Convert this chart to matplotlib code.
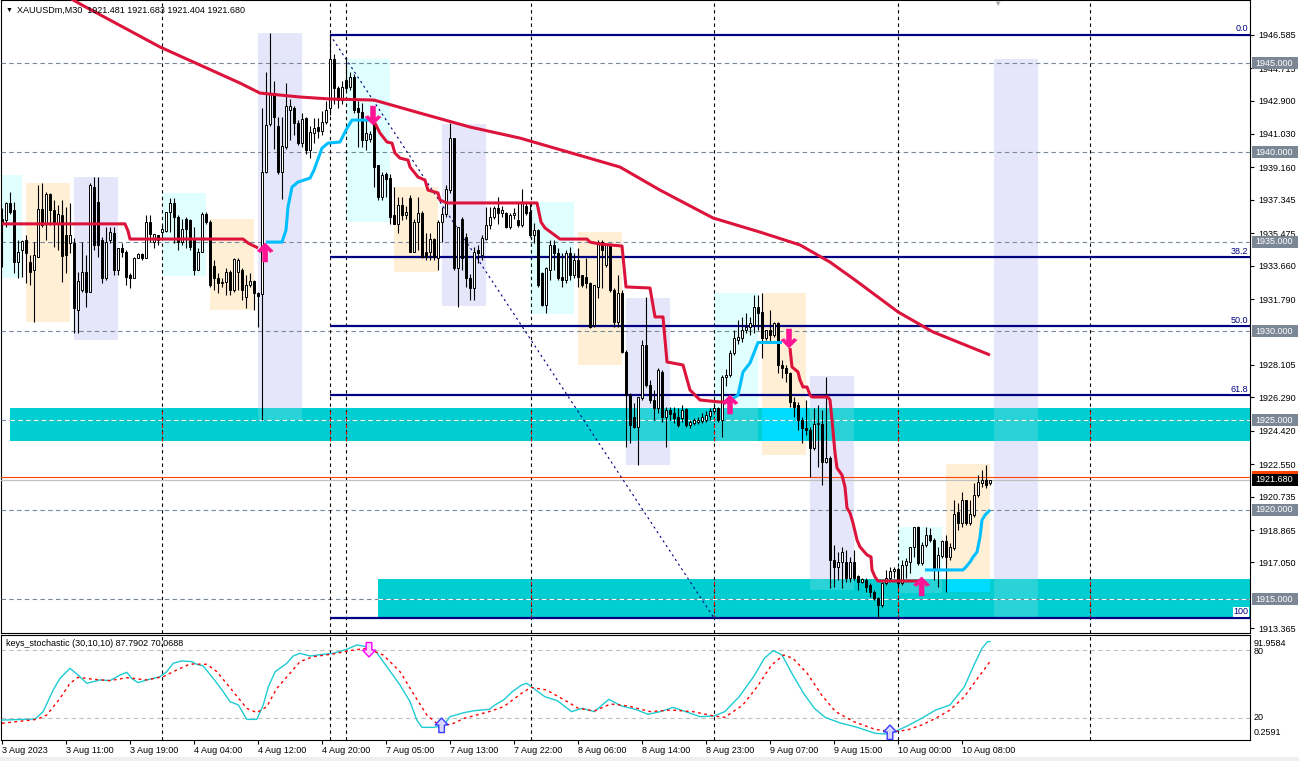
import numpy as np
import matplotlib
matplotlib.use("Agg")
import matplotlib.pyplot as plt
import matplotlib.transforms as mtransforms
from matplotlib.patches import Rectangle, Polygon

plt.rcParams["font.family"] = ["Liberation Sans", "DejaVu Sans"]

W, H = 1299, 761

# XAUUSDm M30 bars, index 0 = 3 Aug 2023 03:00
OPEN = [
    1936.30, 1936.21, 1937.14, 1936.77, 1933.88, 1934.53, 1935.10, 1933.88, 1933.41, 1934.16,
    1936.81, 1936.02, 1937.65, 1936.77, 1936.02, 1936.49, 1935.37, 1934.94, 1934.91, 1931.17,
    1932.29, 1933.28, 1932.20, 1938.08, 1937.24, 1935.10, 1932.95, 1935.10, 1935.50, 1933.41,
    1934.63, 1934.44, 1933.13, 1932.95, 1934.10, 1934.29, 1934.10, 1936.12, 1935.00, 1935.37,
    1935.56, 1935.60, 1936.68, 1937.18, 1936.40, 1935.00, 1936.25, 1936.20, 1935.10, 1933.41,
    1934.44, 1936.58, 1936.12, 1933.63, 1932.95, 1932.67, 1932.76, 1933.28, 1932.29, 1933.32,
    1933.41, 1931.88, 1932.57, 1932.80, 1932.15, 1932.10, 1938.92, 1941.59, 1943.30, 1941.50,
    1938.92, 1940.31, 1942.40, 1942.46, 1941.62, 1940.54, 1941.90, 1940.13, 1941.10, 1941.40,
    1941.20, 1941.70, 1942.46, 1945.20, 1943.58, 1942.93, 1944.05, 1943.68, 1944.24, 1942.46,
    1942.28, 1940.69, 1940.73, 1941.62, 1939.29, 1937.52, 1938.79, 1938.55, 1936.49, 1936.02,
    1937.05, 1936.49, 1937.43, 1934.44, 1936.12, 1936.63, 1934.44, 1934.44, 1935.13, 1934.07,
    1936.12, 1936.55, 1937.90, 1940.78, 1933.51, 1936.25, 1935.28, 1932.95, 1932.39, 1934.53,
    1934.26, 1935.13, 1935.93, 1936.40, 1936.87, 1936.59, 1936.59, 1935.84, 1936.49, 1936.21,
    1935.93, 1937.00, 1936.68, 1935.38, 1935.65, 1933.23, 1931.46, 1933.42, 1934.82, 1934.35,
    1933.00, 1932.86, 1934.35, 1933.14, 1933.98, 1933.14, 1933.00, 1932.67, 1930.34, 1932.48,
    1935.00, 1933.70, 1934.82, 1932.30, 1930.52, 1932.11, 1928.85, 1926.42, 1925.21, 1924.65,
    1926.24, 1929.22, 1926.98, 1926.14, 1925.67, 1927.73, 1925.21, 1925.58, 1925.40, 1925.21,
    1925.12, 1925.62, 1924.74, 1924.87, 1924.93, 1924.98, 1925.02, 1925.25, 1925.54, 1925.67,
    1925.02, 1927.45, 1927.54, 1928.75, 1929.50, 1929.59, 1930.06, 1930.25, 1930.34, 1931.36,
    1931.09, 1929.59, 1930.06, 1929.78, 1930.43, 1928.10, 1927.91, 1927.63, 1926.05, 1925.86,
    1925.02, 1924.56, 1924.46, 1923.44, 1924.80, 1924.80, 1922.69, 1922.88, 1917.19, 1916.82,
    1917.09, 1917.09, 1916.16, 1917.09, 1916.29, 1915.98, 1916.07, 1915.79, 1915.42, 1915.04,
    1914.67, 1915.88, 1916.16, 1916.59, 1916.67, 1915.88, 1916.88, 1917.09, 1917.90, 1919.02,
    1917.00, 1918.03, 1918.59, 1918.31, 1916.63, 1917.41, 1918.27, 1917.37, 1917.84, 1919.89,
    1919.24, 1920.55, 1919.28, 1919.71, 1920.83, 1921.52, 1921.67, 1921.481,
]
HIGH = [
    1936.90, 1937.24, 1937.80, 1937.24, 1935.10, 1935.10, 1935.37, 1934.25, 1935.00, 1938.17,
    1938.26, 1937.80, 1937.74, 1937.33, 1937.05, 1937.33, 1936.96, 1937.14, 1935.19, 1933.32,
    1935.00, 1934.25, 1938.26, 1938.60, 1938.64, 1935.28, 1935.84, 1935.84, 1935.84, 1934.63,
    1934.91, 1934.53, 1933.23, 1934.16, 1934.35, 1934.35, 1936.49, 1936.49, 1935.45, 1935.40,
    1936.02, 1936.68, 1937.42, 1937.42, 1936.49, 1936.30, 1936.40, 1936.30, 1935.84, 1934.63,
    1936.68, 1936.68, 1936.21, 1933.97, 1933.23, 1932.95, 1933.51, 1933.41, 1934.07, 1934.07,
    1933.51, 1933.13, 1933.23, 1932.85, 1932.20, 1942.46, 1944.51, 1946.66, 1944.00, 1942.00,
    1942.00, 1943.90, 1943.00, 1942.60, 1941.80, 1942.20, 1942.00, 1941.50, 1941.90, 1941.90,
    1942.30, 1942.90, 1946.59, 1945.50, 1943.70, 1944.00, 1945.35, 1944.50, 1944.40, 1942.90,
    1942.74, 1941.81, 1941.20, 1941.81, 1939.30, 1938.92, 1938.92, 1938.80, 1938.08, 1937.52,
    1937.52, 1937.00, 1937.60, 1936.30, 1937.52, 1936.70, 1935.47, 1935.47, 1935.20, 1936.21,
    1936.96, 1938.20, 1941.62, 1940.80, 1935.84, 1936.40, 1935.47, 1933.20, 1934.72, 1934.80,
    1935.37, 1936.96, 1936.96, 1937.00, 1937.52, 1937.00, 1936.68, 1936.60, 1936.90, 1937.25,
    1937.93, 1937.25, 1937.25, 1936.03, 1935.70, 1933.30, 1933.60, 1935.09, 1935.09, 1934.63,
    1934.35, 1934.54, 1934.72, 1934.35, 1934.63, 1933.14, 1934.07, 1932.76, 1932.60, 1935.09,
    1935.09, 1934.91, 1934.91, 1932.39, 1933.14, 1932.30, 1928.94, 1926.52, 1925.95, 1926.33,
    1929.50, 1931.92, 1927.26, 1926.70, 1927.92, 1927.82, 1925.77, 1925.77, 1925.77, 1925.67,
    1925.86, 1925.67, 1925.02, 1925.12, 1925.20, 1925.40, 1925.50, 1925.67, 1925.86, 1925.77,
    1927.54, 1927.90, 1928.94, 1930.06, 1930.62, 1930.80, 1930.99, 1930.81, 1932.02, 1932.02,
    1932.11, 1930.06, 1931.18, 1930.53, 1930.53, 1928.38, 1928.10, 1927.73, 1926.33, 1926.05,
    1925.21, 1926.14, 1924.65, 1925.68, 1925.86, 1925.58, 1927.45, 1923.00, 1918.03, 1917.65,
    1917.93, 1917.75, 1917.37, 1917.75, 1916.35, 1916.20, 1916.16, 1915.88, 1915.51, 1915.14,
    1915.98, 1916.63, 1916.82, 1916.82, 1916.82, 1917.19, 1917.28, 1917.93, 1919.05, 1919.09,
    1918.22, 1919.05, 1918.96, 1918.40, 1917.93, 1918.31, 1918.59, 1918.12, 1920.55, 1920.36,
    1921.01, 1920.55, 1920.55, 1921.48, 1921.94, 1922.22, 1922.50, 1921.683,
]
LOW = [
    1933.60, 1935.84, 1936.58, 1933.23, 1932.95, 1933.04, 1932.67, 1932.57, 1930.52, 1934.16,
    1935.84, 1935.10, 1935.93, 1934.72, 1934.53, 1932.76, 1933.23, 1934.35, 1929.87, 1929.87,
    1932.20, 1931.36, 1932.20, 1934.53, 1934.16, 1932.67, 1932.85, 1934.91, 1933.13, 1933.13,
    1934.16, 1932.57, 1932.39, 1932.95, 1934.07, 1933.97, 1934.07, 1935.00, 1934.63, 1934.80,
    1935.10, 1935.56, 1935.56, 1934.91, 1934.53, 1934.81, 1934.63, 1934.53, 1933.13, 1933.41,
    1934.44, 1936.02, 1932.48, 1932.29, 1932.11, 1932.48, 1932.01, 1932.01, 1932.20, 1932.29,
    1931.73, 1931.27, 1932.48, 1931.17, 1930.24, 1925.02, 1938.83, 1941.50, 1940.20, 1938.80,
    1937.40, 1940.20, 1940.70, 1941.00, 1940.40, 1940.30, 1939.90, 1939.70, 1940.50, 1940.80,
    1941.00, 1941.60, 1942.10, 1942.70, 1942.50, 1942.70, 1943.40, 1943.50, 1942.20, 1940.32,
    1940.32, 1940.13, 1940.60, 1938.08, 1937.33, 1937.33, 1937.52, 1936.02, 1936.00, 1935.47,
    1936.20, 1936.30, 1934.40, 1934.40, 1934.53, 1934.10, 1933.98, 1933.98, 1934.00, 1933.42,
    1935.00, 1936.40, 1937.70, 1933.42, 1931.36, 1933.42, 1932.48, 1931.74, 1931.74, 1933.80,
    1933.98, 1935.10, 1935.70, 1936.30, 1936.00, 1936.40, 1935.75, 1935.70, 1936.30, 1935.80,
    1935.84, 1936.50, 1935.28, 1934.91, 1932.48, 1931.40, 1930.99, 1932.86, 1933.42, 1932.86,
    1932.48, 1932.67, 1932.86, 1932.95, 1932.48, 1932.48, 1932.39, 1930.15, 1930.25, 1931.83,
    1932.39, 1933.60, 1932.20, 1930.25, 1930.25, 1928.75, 1923.53, 1923.72, 1924.56, 1922.50,
    1926.14, 1926.89, 1925.95, 1925.02, 1925.40, 1924.93, 1923.53, 1925.02, 1924.84, 1924.65,
    1924.93, 1924.65, 1924.56, 1924.74, 1924.80, 1924.84, 1924.90, 1925.02, 1925.40, 1924.93,
    1924.09, 1926.90, 1927.45, 1928.65, 1929.30, 1929.40, 1929.87, 1929.78, 1929.87, 1930.06,
    1928.47, 1929.50, 1929.41, 1929.69, 1927.63, 1927.36, 1927.17, 1925.77, 1925.21, 1924.46,
    1923.72, 1924.18, 1921.85, 1923.34, 1922.40, 1921.38, 1922.60, 1915.60, 1915.70, 1916.07,
    1915.60, 1915.98, 1915.98, 1916.07, 1915.51, 1915.88, 1915.42, 1915.14, 1914.95, 1913.92,
    1914.58, 1915.79, 1916.07, 1916.16, 1915.60, 1915.79, 1916.16, 1916.44, 1917.37, 1916.91,
    1916.91, 1917.93, 1918.22, 1916.07, 1915.70, 1917.28, 1915.42, 1917.19, 1917.75, 1918.87,
    1919.05, 1919.15, 1919.15, 1919.61, 1920.73, 1921.29, 1921.20, 1921.404,
]
CLOSE = [
    1936.10, 1937.14, 1936.68, 1933.88, 1934.44, 1935.05, 1934.35, 1933.32, 1934.25, 1936.81,
    1935.93, 1937.65, 1936.77, 1936.02, 1936.55, 1934.20, 1934.25, 1935.37, 1931.27, 1932.80,
    1933.28, 1932.20, 1938.17, 1934.81, 1934.81, 1932.95, 1935.00, 1935.56, 1933.41, 1934.63,
    1934.44, 1933.04, 1932.95, 1934.10, 1934.29, 1934.07, 1936.12, 1935.43, 1935.43, 1935.10,
    1935.69, 1936.68, 1937.18, 1936.40, 1935.00, 1935.74, 1935.74, 1934.72, 1933.41, 1934.44,
    1936.58, 1936.12, 1932.57, 1932.95, 1932.67, 1932.76, 1933.28, 1932.29, 1934.03, 1933.97,
    1932.29, 1932.57, 1932.80, 1932.15, 1931.96, 1938.92, 1941.53, 1943.30, 1942.00, 1938.92,
    1940.36, 1942.59, 1942.60, 1941.62, 1940.54, 1941.85, 1940.13, 1941.12, 1941.34, 1941.20,
    1941.70, 1942.40, 1945.20, 1943.58, 1942.93, 1943.68, 1943.58, 1944.20, 1942.37, 1942.28,
    1940.69, 1941.06, 1941.04, 1939.20, 1937.52, 1938.73, 1938.49, 1936.40, 1936.02, 1937.05,
    1936.49, 1936.68, 1934.44, 1936.12, 1936.63, 1934.16, 1934.16, 1935.13, 1934.16, 1936.12,
    1936.55, 1937.93, 1940.78, 1933.51, 1935.84, 1934.07, 1932.95, 1932.39, 1934.41, 1934.35,
    1935.19, 1935.93, 1936.40, 1936.87, 1936.59, 1936.77, 1935.84, 1936.49, 1936.59, 1935.93,
    1937.15, 1936.59, 1935.37, 1935.65, 1932.58, 1931.46, 1933.51, 1934.82, 1934.35, 1932.95,
    1932.86, 1934.35, 1933.14, 1933.98, 1933.04, 1932.58, 1932.67, 1930.25, 1932.58, 1935.00,
    1934.54, 1934.82, 1932.30, 1930.52, 1932.11, 1928.85, 1926.42, 1924.74, 1924.65, 1926.33,
    1929.22, 1926.98, 1926.14, 1925.67, 1927.82, 1925.21, 1925.58, 1925.36, 1925.12, 1924.74,
    1925.58, 1924.74, 1924.93, 1925.02, 1925.02, 1925.21, 1925.30, 1925.54, 1925.67, 1925.02,
    1927.45, 1927.54, 1928.75, 1929.59, 1929.69, 1930.06, 1930.25, 1930.43, 1931.36, 1930.99,
    1929.59, 1930.06, 1929.78, 1930.43, 1928.10, 1927.91, 1927.63, 1926.05, 1925.77, 1925.02,
    1924.56, 1924.46, 1923.44, 1924.80, 1924.86, 1922.69, 1922.88, 1917.19, 1916.82, 1917.09,
    1917.65, 1916.16, 1917.09, 1916.16, 1915.98, 1916.11, 1915.70, 1915.42, 1915.04, 1914.67,
    1915.88, 1916.16, 1916.59, 1916.67, 1915.88, 1916.91, 1917.15, 1917.90, 1919.02, 1917.00,
    1918.03, 1918.59, 1918.31, 1916.63, 1917.47, 1918.27, 1917.37, 1917.90, 1919.76, 1919.24,
    1920.55, 1919.24, 1919.74, 1920.83, 1921.57, 1921.67, 1921.39, 1921.680,
]

# long moving average (read at sample bars)
MA_BAR = [0, 20, 39.5, 49.5, 59.5, 64.5, 74.5, 82, 93, 104.5, 117, 129.5, 154.5, 164.5,
          177.75, 189.5, 199.5, 207, 213.25, 224, 232.75, 247]
MA_VAL = [1950.80, 1948.25, 1945.90, 1944.89, 1943.88, 1943.32, 1943.10, 1942.99, 1942.93,
          1942.20, 1941.42, 1940.80, 1939.18, 1937.89, 1936.33, 1935.54, 1934.82, 1933.86,
          1932.86, 1931.07, 1929.95, 1928.66]

# trailing stop line, red (bearish) and blue (bullish) legs
RED1_BAR = [0, 30.75, 31.5, 32, 60.25, 61.5, 64]
RED1_VAL = [1936.0, 1936.0, 1935.6, 1935.15, 1935.15, 1934.93, 1934.65]
BLUE1_BAR = [66, 70, 71, 71.5, 72.5, 74, 77, 78, 80, 81.5, 84.5, 86, 87.5, 93]
BLUE1_VAL = [1934.98, 1934.98, 1935.65, 1936.94, 1938.06, 1938.34, 1938.56, 1939.01, 1940.24,
             1940.52, 1940.58, 1941.25, 1941.81, 1941.81]
RED2_BAR = [93.25, 94.5, 96.25, 97.5, 98.25, 99.5, 101.5, 102, 104, 105.75, 106.5, 109, 109.5,
            111.25, 133.75, 134.75, 135.75, 139.5, 146.25, 147, 149.5, 155, 156, 162, 163.25,
            165.25, 166.25, 170.25, 172, 174.5, 179.5, 181.5]
RED2_VAL = [1941.64, 1941.08, 1940.58, 1940.52, 1939.96, 1939.68, 1939.57, 1939.18, 1938.62,
            1938.45, 1937.89, 1937.73, 1937.33, 1937.17, 1937.17, 1936.10, 1935.77, 1935.15,
            1935.15, 1934.98, 1934.87, 1934.76, 1932.47, 1932.41, 1930.79, 1930.79, 1928.27,
            1928.10, 1926.70, 1926.14, 1926.03, 1926.03]
BLUE2_BAR = [181.5, 184, 185.25, 187, 189, 195]
BLUE2_VAL = [1926.03, 1926.42, 1927.71, 1928.21, 1929.36, 1929.36]
RED3_BAR = [197, 197.5, 199, 199.5, 200.25, 201.25, 202, 202.5, 206.5, 207, 207.5, 208.25,
            208.75, 210, 210.75, 211.25, 212, 212.75, 213.75, 214.5, 216.25, 217.25, 217.5,
            218.25, 219, 229.5]
RED3_VAL = [1929.05, 1927.99, 1927.71, 1927.26, 1926.87, 1926.87, 1926.42, 1926.31, 1926.31,
            1926.14, 1925.02, 1923.18, 1922.34, 1921.94, 1921.27, 1920.10, 1919.82, 1919.26,
            1918.31, 1917.92, 1917.47, 1917.36, 1916.63, 1916.24, 1916.01, 1916.01]
BLUE3_BAR = [230.75, 240.25, 241, 242, 242.75, 243.75, 244.5, 245, 245.75, 247]
BLUE3_VAL = [1916.63, 1916.63, 1916.80, 1917.07, 1917.35, 1917.63, 1918.47, 1919.42, 1919.70,
             1919.99]

# signal arrows on the trailing line
ARROW_BAR = [65.8, 92.75, 182, 196.75, 229.9]
ARROW_PRICE = [1934.93, 1941.53, 1926.42, 1929.05, 1916.24]
ARROW_UP = [True, False, True, False, True]

# session boxes (asia / london / new york)
SESSION_START = [-6, 6, 18, 40, 52, 64, 86, 98, 110, 132, 144, 156, 178, 190, 202, 224, 236, 248]
SESSION_KIND = ["asia", "london", "ny"] * 6
SESSION_HIGH = [1938.73, 1938.28, 1938.62, 1937.73, 1936.27, 1946.68, 1945.22, 1938.06, 1941.59,
                1937.22, 1935.54, 1931.85, 1932.13, 1932.13, 1927.48, 1919.03, 1922.56, 1945.22]
SESSION_LOW = [1932.97, 1930.51, 1929.50, 1933.08, 1931.18, 1925.02, 1936.10, 1933.30, 1931.40,
               1930.95, 1928.10, 1922.50, 1923.85, 1923.06, 1915.50, 1915.34, 1915.40, 1913.94]

# supply/demand zones
ZONE_START = [2, 94]
ZONE_TOP = [1925.69, 1916.12]
ZONE_BOTTOM = [1923.85, 1913.94]

# fibonacci retracement
FIB_START, FIB_END = 82, 178
FIB_LEVELS = [1946.585, 1934.12, 1930.26, 1926.41, 1913.94]
FIB_LABELS = ["0.0", "38.2", "50.0", "61.8", "100"]

ROUND_LEVELS = [1945.0, 1940.0, 1935.0, 1930.0, 1925.0, 1920.0, 1915.0]
SEP_BARS = [40, 82, 86, 132.25, 178, 224, 272]
BID, ASK = 1921.68, 1921.85

# visible price-scale labels (the ones under the round-level tags are hidden)
PRICE_TICKS = [1946.585, 1944.715, 1942.900, 1941.030, 1939.160, 1937.345, 1935.475, 1933.660,
               1931.790, 1928.105, 1926.290, 1924.420, 1922.550, 1920.735, 1918.865,
               1917.050, 1913.365]

X_TICK_BARS = [0, 16, 32, 48, 64, 80, 96, 112, 128, 144, 160, 176, 192, 208, 224, 240]
X_LABELS = ["3 Aug 2023", "3 Aug 11:00", "3 Aug 19:00", "4 Aug 04:00", "4 Aug 12:00",
            "4 Aug 20:00", "7 Aug 05:00", "7 Aug 13:00", "7 Aug 22:00", "8 Aug 06:00",
            "8 Aug 14:00", "8 Aug 23:00", "9 Aug 07:00", "9 Aug 15:00", "10 Aug 00:00",
            "10 Aug 08:00"]

# keys_stochastic (30,10,10), read at sample bars
STOCH_MAIN_BAR = [0, 8.25, 10.3, 12.8, 14.5, 17, 19, 21.2, 24.5, 27, 29.5, 31.2, 32.4, 34, 36.2,
                  39.5, 41.2, 42.8, 44.9, 47.4, 48.7, 50.3, 52.8, 55, 57, 59.1, 61.2, 63.7, 65.3,
                  66.6, 68.3, 71.2, 72.8, 74.5, 77, 80.3, 82.8, 86.2, 88.7, 91.2, 93.7, 96.2,
                  99.5, 102, 103.7, 105, 107.8, 110.3, 112, 115.5, 118.2, 121.8, 123.2, 125.4,
                  127.6, 129.9, 131.2, 133.4, 135.7, 138.8, 142.4, 145, 148.1, 151.7, 154.9,
                  158.4, 161.5, 164.6, 167.8, 170.9, 174.5, 178, 180.7, 184.3, 187.9, 190.6,
                  192.8, 195, 197.7, 200.4, 203.1, 205.8, 209.3, 213.8, 218.3, 220.9, 223.2,
                  226.3, 229.9, 233.4, 237, 240.6, 243.2, 245, 246.4, 247]
STOCH_MAIN_VAL = [17.9, 18.8, 25.4, 44.7, 55.0, 63.9, 58.0, 50.6, 53.6, 53.0, 58.0, 60.4, 55.0,
                  51.2, 53.6, 56.5, 61.0, 68.4, 70.5, 69.9, 67.5, 66.0, 55.0, 44.7, 34.3, 31.3,
                  18.5, 18.5, 31.3, 47.6, 61.0, 68.4, 74.9, 77.3, 74.9, 76.4, 77.3, 80.9, 84.7,
                  83.2, 77.9, 65.4, 49.1, 34.3, 17.9, 11.4, 11.4, 12.6, 20.9, 24.5, 26.3, 27.4,
                  31.3, 35.8, 43.2, 49.1, 50.6, 44.7, 38.7, 35.2, 25.4, 28.3, 25.4, 36.3, 30.4,
                  27.4, 23.0, 25.4, 29.2, 25.4, 20.9, 21.5, 25.4, 38.7, 56.5, 72.9, 79.7, 75.8,
                  58.0, 41.7, 28.3, 20.3, 15.6, 11.4, 6.1, 5.5, 7.5, 12.6, 19.4, 26.8, 31.3,
                  47.6, 68.4, 81.7, 87.7, 87.79]
STOCH_SIG_BAR = [0, 8.7, 11.2, 14.5, 17, 19, 22.8, 27, 31.2, 36.2, 40.3, 43.7, 47, 51.2, 53.7,
                 57.8, 61.2, 63.7, 66.2, 68.7, 72, 74.5, 77.8, 82.8, 87, 91.2, 95.3, 99.5, 102.8,
                 106.2, 108.7, 111.2, 112, 115.5, 121.8, 125.4, 129.9, 132.2, 136.1, 140.6,
                 144.1, 148.1, 152.2, 156.6, 162, 167.3, 172.7, 178, 180.7, 185.2, 188.8, 192.4,
                 195.4, 197.7, 201.3, 204.9, 208.4, 212.9, 218.3, 222.8, 226.3, 229.9, 233.4,
                 237, 240.6, 244.2, 246.4, 247]
STOCH_SIG_VAL = [15.0, 18.5, 22.4, 37.2, 50.6, 55.9, 54.2, 53.0, 55.6, 53.6, 56.5, 62.5, 67.8,
                 67.5, 61.0, 43.2, 28.3, 24.5, 29.8, 46.1, 59.5, 69.9, 74.3, 76.7, 79.7, 81.8,
                 75.8, 61.0, 41.7, 22.4, 15.0, 14.4, 13.5, 19.4, 25.4, 29.8, 41.7, 47.0, 44.7,
                 35.8, 28.3, 26.0, 32.2, 30.4, 25.4, 26.8, 25.4, 21.5, 20.3, 31.3, 47.6, 66.9,
                 75.8, 72.9, 59.5, 40.2, 25.4, 16.5, 9.6, 7.5, 9.0, 13.5, 19.4, 26.8, 38.7,
                 56.5, 66.9, 70.07]
# hollow crossing arrows (tip position)
STOCH_ARROW_BAR = [91.75, 109.9, 222]
STOCH_ARROW_VAL = [74.0, 19.7, 13.5]
STOCH_ARROW_UP = [False, True, True]

XMIN, XMAX = -0.25, 312
YMIN, YMAX = 1913.10, 1948.53
FONT = 6.5


def fx(px):
    return px / W


def fy(py):
    return 1 - py / H


def price_px(p):
    return (YMAX - p) / (YMAX - YMIN) * 633


def pixel_polygon(axis, bar, val, shape, up, **kw):
    # shape given in pixels with the tip at (0, 0); 1 px = 0.01 in at dpi 100
    s = 1 if up else -1
    verts = [(vx / 100, s * vy / 100) for vx, vy in shape]
    trans = fig.dpi_scale_trans + mtransforms.ScaledTranslation(bar, val, axis.transData)
    axis.add_patch(Polygon(verts, closed=True, transform=trans, **kw))


fig = plt.figure(figsize=(W / 100, H / 100), dpi=100)
fig.patch.set_facecolor("white")
ax = fig.add_axes([fx(1), fy(633), 1249 / W, 633 / H])
ax2 = fig.add_axes([fx(1), fy(740), 1249 / W, 105 / H])
ax.set_xlim(XMIN, XMAX)
ax.set_ylim(YMIN, YMAX)
ax2.set_xlim(XMIN, XMAX)
ax2.set_ylim(0.14, 93.6)

# session boxes, zones and their overlap tint
box_color = {"asia": "#E0FFFF", "london": "#FFEFD5", "ny": "#E6E6FA"}
mix_color = {"asia": "#2AD3D8", "london": "#00DCFF", "ny": "#2AD3D8"}
for s, k, hi, lo in zip(SESSION_START, SESSION_KIND, SESSION_HIGH, SESSION_LOW):
    ax.add_patch(Rectangle((s, lo), 11, hi - lo, facecolor=box_color[k], lw=0, zorder=1))
for zs, zt, zb in zip(ZONE_START, ZONE_TOP, ZONE_BOTTOM):
    ax.add_patch(Rectangle((zs, zb), XMAX - zs, zt - zb, facecolor="#00CED1", lw=0, zorder=2))
    for s, k, hi, lo in zip(SESSION_START, SESSION_KIND, SESSION_HIGH, SESSION_LOW):
        x0, x1 = max(s, zs), s + 11
        y0, y1 = max(lo, zb), min(hi, zt)
        if x1 > x0 and y1 > y0:
            ax.add_patch(Rectangle((x0, y0), x1 - x0, y1 - y0, facecolor=mix_color[k],
                                   lw=0, zorder=2.2))

# round-number levels (white where they cross a zone)
for lv in ROUND_LEVELS:
    ax.axhline(lv, color="#778899", lw=0.8, ls=(0, (4, 3)), zorder=3)
    for zs, zt, zb in zip(ZONE_START, ZONE_TOP, ZONE_BOTTOM):
        if zb < lv < zt:
            ax.hlines(lv, zs, XMAX, color="white", lw=0.8, ls=(0, (4, 3)), zorder=3.1)

# day separators (red where they cross a zone)
for b in SEP_BARS:
    for a in (ax, ax2):
        a.axvline(b, color="black", lw=0.8, ls=(0, (3, 3)), zorder=3)
    for zs, zt, zb in zip(ZONE_START, ZONE_TOP, ZONE_BOTTOM):
        if b > zs:
            ax.vlines(b, zb, zt, color="red", lw=0.8, ls=(0, (3, 3)), zorder=3.1)

# bid / ask lines
ax.axhline(ASK, color="#FF4500", lw=0.8, zorder=3.5)
ax.axhline(BID, color="#C0C0C0", lw=0.9, zorder=3.5)

# fibonacci
ax.hlines(FIB_LEVELS, FIB_START, XMAX, color="#000080", lw=1.6, zorder=4)
ax.plot([FIB_START, FIB_END], [FIB_LEVELS[0], FIB_LEVELS[-1]], color="#000080", lw=0.8,
        ls=(0, (2, 3)), zorder=4)
for lv, lab in zip(FIB_LEVELS, FIB_LABELS):
    ax.text(XMAX - 0.4, lv + 0.09, lab, ha="right", va="bottom", fontsize=FONT, color="#000080",
            zorder=4.5, bbox=dict(facecolor="white", edgecolor="none", pad=0.3))

# candles
x = np.arange(len(CLOSE))
o, h, l, c = (np.array(v) for v in (OPEN, HIGH, LOW, CLOSE))
bull = c >= o
ax.vlines(x, l, h, color="black", lw=0.8, zorder=5)
bot = np.minimum(o, c)
hgt = np.maximum(np.abs(c - o), 0.05)
ax.bar(x[bull], hgt[bull], bottom=bot[bull], width=0.5, color="white", edgecolor="black",
       lw=0.7, zorder=6)
ax.bar(x[~bull], hgt[~bull], bottom=bot[~bull], width=0.5, color="black", edgecolor="black",
       lw=0.7, zorder=6)

# moving average and trailing line
ax.plot(MA_BAR, MA_VAL, color="#DC143C", lw=2.2, zorder=7, solid_capstyle="butt")
for bars, vals, col in [(RED1_BAR, RED1_VAL, "#DC143C"), (BLUE1_BAR, BLUE1_VAL, "#00BFFF"),
                        (RED2_BAR, RED2_VAL, "#DC143C"), (BLUE2_BAR, BLUE2_VAL, "#00BFFF"),
                        (RED3_BAR, RED3_VAL, "#DC143C"), (BLUE3_BAR, BLUE3_VAL, "#00BFFF")]:
    ax.plot(bars, vals, color=col, lw=2.2, zorder=7, solid_capstyle="butt")

# fat pink arrows on the trailing line
fat = [(0, 0), (8, -8), (5, -9.5), (2.5, -7), (2.5, -19), (-2.5, -19), (-2.5, -7),
       (-5, -9.5), (-8, -8)]
for b, p, up in zip(ARROW_BAR, ARROW_PRICE, ARROW_UP):
    pixel_polygon(ax, b, p, fat, up, facecolor="#FF1493", edgecolor="#FF1493", lw=0.4, zorder=9)

# stochastic panel
ax2.axhline(80, color="#C0C0C0", lw=0.8, ls=(0, (4, 3)), zorder=2)
ax2.axhline(20, color="#C0C0C0", lw=0.8, ls=(0, (4, 3)), zorder=2)
ax2.plot(STOCH_MAIN_BAR, STOCH_MAIN_VAL, color="#1ECBD3", lw=1.0, zorder=5)
ax2.plot(STOCH_SIG_BAR, STOCH_SIG_VAL, color="red", lw=1.0, ls=(0, (2, 2.5)), zorder=5)
hollow = [(0, 0), (6.5, -7), (2.8, -7), (2.8, -14.5), (-2.8, -14.5), (-2.8, -7), (-6.5, -7)]
for b, v, up in zip(STOCH_ARROW_BAR, STOCH_ARROW_VAL, STOCH_ARROW_UP):
    edge = "#3A3AFF" if up else "#FF00FF"
    face = "#D8D8FF" if up else "#FFD8FF"
    pixel_polygon(ax2, b, v, hollow, up, facecolor=face, edgecolor=edge, lw=1.0, zorder=6)

for a in (ax, ax2):
    for sp in a.spines.values():
        sp.set_linewidth(0.8)
        sp.set_color("black")

ax.set_xticks([])
ax.yaxis.tick_right()
ax.set_yticks(PRICE_TICKS)
ax.set_yticklabels([f"{v:.3f}" for v in PRICE_TICKS])
ax.tick_params(axis="y", length=3, width=0.8, pad=3, labelsize=FONT, colors="black")

ax2.set_yticks([])
ax2.set_xticks(X_TICK_BARS)
ax2.set_xticklabels(X_LABELS, ha="left", fontsize=FONT)
ax2.tick_params(axis="x", length=3, width=0.8, pad=1.5)

# price tags on the right
for lv in ROUND_LEVELS:
    py = price_px(lv)
    fig.add_artist(Rectangle((fx(1252), fy(py + 6)), 46 / W, 12 / H, transform=fig.transFigure,
                             facecolor="#7C8796", lw=0))
    fig.text(fx(1255), fy(py), f"{lv:.3f}", va="center", ha="left", fontsize=FONT, color="white")
# ask tag sits under the bid tag, only its top edge shows
py = price_px(ASK)
fig.add_artist(Rectangle((fx(1252), fy(py + 6)), 46 / W, 12 / H, transform=fig.transFigure,
                         facecolor="#FF4500", lw=0))
py = price_px(BID)
fig.add_artist(Rectangle((fx(1252), fy(py + 6)), 46 / W, 12 / H, transform=fig.transFigure,
                         facecolor="black", lw=0))
fig.text(fx(1255), fy(py), f"{BID:.3f}", va="center", ha="left", fontsize=FONT, color="white")

# stochastic scale labels
for txt, py in [("91.9584", 643), ("80", 651), ("20", 717.5), ("0.2591", 732.5)]:
    fig.text(fx(1254), fy(py), txt, va="center", ha="left", fontsize=FONT, color="black")

fig.text(fx(6), fy(10), "\u25bc", va="center", ha="left", fontsize=5, color="black")
fig.text(fx(17), fy(10), "XAUUSDm,M30  1921.481 1921.683 1921.404 1921.680", va="center",
         ha="left", fontsize=FONT, color="black")
fig.text(fx(6), fy(644), "keys_stochastic (30,10,10) 87.7902 70.0688", va="center", ha="left",
         fontsize=FONT, color="black")
fig.text(fx(997), fy(4), "\u25bc", va="center", ha="center", fontsize=6, color="#A9A9A9")
fig.add_artist(Rectangle((0, 0), 1, 4 / H, transform=fig.transFigure, facecolor="#EFEFEF", lw=0))

fig.savefig("out.png", dpi=100)
